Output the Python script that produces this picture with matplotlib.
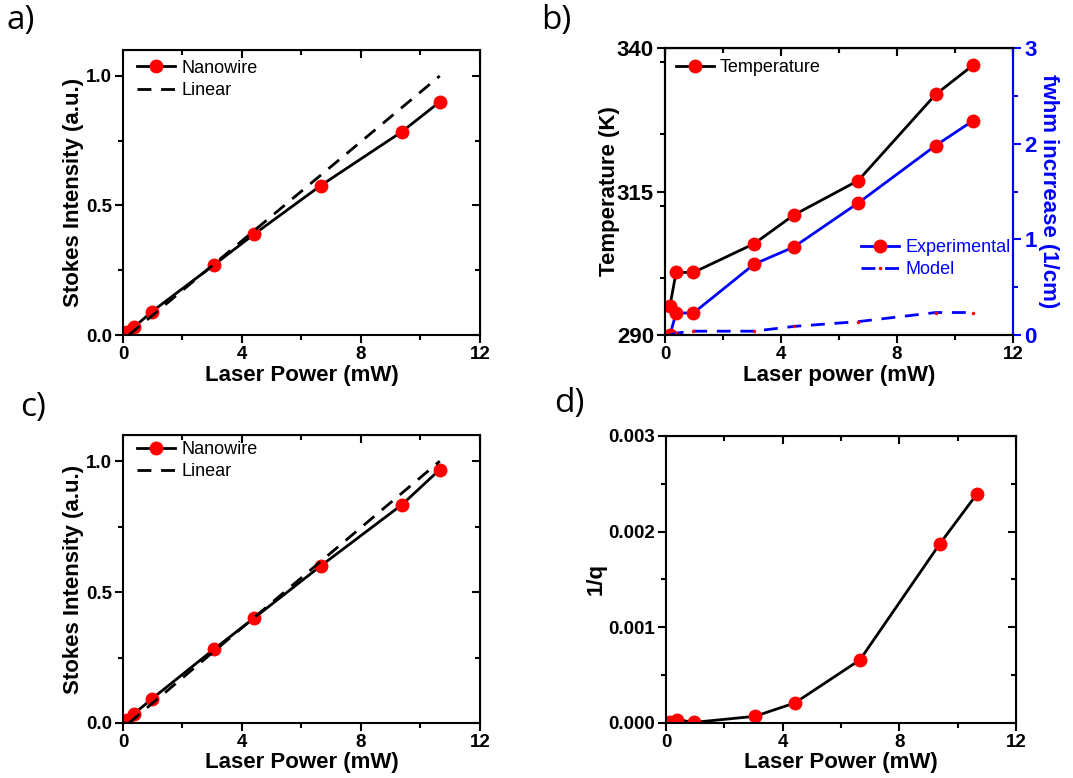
import matplotlib
matplotlib.use("Agg")
import matplotlib.pyplot as plt
from matplotlib.ticker import MultipleLocator, FormatStrFormatter

plt.rcParams['font.family'] = ['Liberation Sans', 'DejaVu Sans']

# laser power (mW)
power = [0.15, 0.37, 0.97, 3.05, 4.42, 6.65, 9.38, 10.65]

# a) stokes intensity
stokes_a = [0.01, 0.03, 0.09, 0.27, 0.39, 0.577, 0.785, 0.90]
linear_a_x = [0.2, 10.65]
linear_a_y = [0.0, 1.0]

# b) temperature and fwhm increase
temp_x = [0.17, 0.38, 0.98, 3.07, 4.44, 6.66, 9.33, 10.62]
temp = [295.1, 300.9, 300.9, 305.9, 310.9, 316.9, 331.9, 337.0]
fwhm_exp = [0.0, 0.23, 0.23, 0.74, 0.92, 1.38, 1.98, 2.24]
fwhm_model = [0.0, 0.02, 0.04, 0.04, 0.09, 0.14, 0.235, 0.235]
temp_ticks = [290, 315, 340]

# c) stokes intensity
stokes_c = [0.01, 0.035, 0.092, 0.281, 0.402, 0.60, 0.834, 0.968]
linear_c_x = [0.2, 10.65]
linear_c_y = [0.0, 1.0]

# d) 1/q
inv_q = [0.00001, 0.000035, 0.000007, 0.00007, 0.00021, 0.00066, 0.00187, 0.00239]

RED = '#ff0000'
BLUE = '#0000ff'


def ticks(axis_obj, direction, **kw):
    axis_obj.tick_params(which='both', direction=direction, width=1.5, **kw)
    axis_obj.tick_params(which='major', length=6)
    axis_obj.tick_params(which='minor', length=3.5)


def add_top(ax):
    top = ax.secondary_xaxis('top')
    top.set_xticks([0, 4, 8, 12])
    top.xaxis.set_minor_locator(MultipleLocator(2))
    ticks(top, 'in', labeltop=False)


def style_axes(ax, xlabel, ylabel, right=True, ysize=13.5, ypad=1):
    ax.set_xlim(0, 12)
    ax.xaxis.set_major_locator(MultipleLocator(4))
    ax.xaxis.set_minor_locator(MultipleLocator(2))
    ticks(ax, 'out', top=False, right=False, pad=2)
    ax.tick_params(axis='x', labelsize=13.5)
    ax.tick_params(axis='y', labelsize=ysize)
    for lab in ax.get_xticklabels() + ax.get_yticklabels():
        lab.set_fontweight('bold')
    for sp in ax.spines.values():
        sp.set_linewidth(1.5)
    ax.set_xlabel(xlabel, fontsize=16, fontweight='bold', labelpad=1)
    ax.set_ylabel(ylabel, fontsize=16, fontweight='bold', labelpad=ypad)
    add_top(ax)
    if right:
        rt = ax.secondary_yaxis('right')
        rt.set_yticks(ax.get_yticks())
        rt.yaxis.set_minor_locator(ax.yaxis.get_minor_locator())
        ticks(rt, 'in', labelright=False)


fig = plt.figure(figsize=(10.73, 7.78), dpi=100)

ax_a = fig.add_axes([0.1146, 0.5694, 0.3327, 0.3663])
ax_b = fig.add_axes([0.6198, 0.5694, 0.3243, 0.3689])
ax_c = fig.add_axes([0.1146, 0.0707, 0.3327, 0.3702])
ax_d = fig.add_axes([0.6207, 0.0707, 0.3262, 0.3689])

leg_kw = dict(frameon=False, fontsize=13, handlelength=2.1,
              labelspacing=0.3, handletextpad=0.35)

# a) and c)
for ax, sy, lx, ly, anchor in [(ax_a, stokes_a, linear_a_x, linear_a_y, (0.02, 0.992)),
                               (ax_c, stokes_c, linear_c_x, linear_c_y, (0.02, 1.004))]:
    ax.plot(power, sy, color='black', lw=2, marker='o', ms=9,
            mfc=RED, mec=RED, label='Nanowire')
    ax.plot(lx, ly, color='black', lw=2, ls=(0, (5, 3.5)), label='Linear')
    ax.set_ylim(0, 1.1)
    ax.yaxis.set_major_locator(MultipleLocator(0.5))
    ax.yaxis.set_minor_locator(MultipleLocator(0.25))
    style_axes(ax, 'Laser Power (mW)', 'Stokes Intensity (a.u.)')
    ax.legend(loc='upper left', bbox_to_anchor=anchor, borderaxespad=0, **leg_kw)

# b)
ax_b.plot(temp_x, temp, color='black', lw=2, marker='o', ms=9,
          mfc=RED, mec=RED, label='Temperature')
ax_b.set_ylim(290, 340)
ax_b.set_yticks(temp_ticks)
ax_b.yaxis.set_minor_locator(MultipleLocator(12.5))
style_axes(ax_b, 'Laser power (mW)', 'Temperature (K)', right=False,
           ysize=16, ypad=-2)
ax_b.legend(loc='upper left', borderaxespad=0.2, **leg_kw)

tw = ax_b.twinx()
tw.plot(temp_x, fwhm_exp, color=BLUE, lw=2, marker='o', ms=9,
        mfc=RED, mec=RED, label='Experimental')
tw.plot(temp_x, fwhm_model, color=BLUE, lw=2, ls=(0, (5, 3.5)), marker='o',
        ms=1.5, mfc=RED, mec=RED, label='Model')
tw.set_ylim(0, 3)
tw.yaxis.set_major_locator(MultipleLocator(1))
tw.yaxis.set_minor_locator(MultipleLocator(0.5))
ticks(tw, 'out', labelsize=16, colors=BLUE, pad=2)
for lab in tw.get_yticklabels():
    lab.set_fontweight('bold')
for sp in tw.spines.values():
    sp.set_linewidth(1.5)
tw.spines['right'].set_color(BLUE)
tw.set_ylabel('fwhm incrrease (1/cm)', fontsize=16, fontweight='bold',
              color=BLUE, rotation=270, labelpad=16)
add_top(tw)
leg = tw.legend(loc='lower right', bbox_to_anchor=(1.025, 0.16),
                borderaxespad=0.2, **leg_kw)
for t in leg.get_texts():
    t.set_color(BLUE)

# d)
ax_d.plot(power, inv_q, color='black', lw=2, marker='o', ms=9,
          mfc=RED, mec=RED)
ax_d.set_ylim(0, 0.003)
ax_d.yaxis.set_major_locator(MultipleLocator(0.001))
ax_d.yaxis.set_minor_locator(MultipleLocator(0.0005))
ax_d.yaxis.set_major_formatter(FormatStrFormatter('%.3f'))
style_axes(ax_d, 'Laser Power (mW)', '1/q', ypad=1)

# panel letters
for x, y, s in [(0.006, 0.995, 'a)'), (0.504, 0.995, 'b)'),
                (0.019, 0.498, 'c)'), (0.516, 0.502, 'd)')]:
    fig.text(x, y, s, fontsize=24, family=['Open Sans', 'DejaVu Sans'],
             va='top', ha='left')

fig.savefig('out.png', dpi=100)
